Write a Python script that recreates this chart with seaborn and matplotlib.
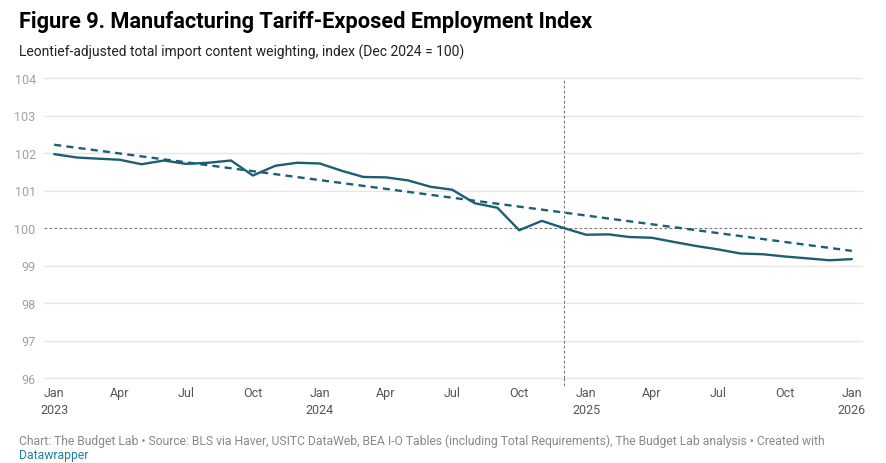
import pandas as pd
import numpy as np
import matplotlib.pyplot as plt
import matplotlib.dates as mdates
import seaborn as sns

# Monthly index values, Jan 2023 - Jan 2026
months = pd.date_range("2023-01-01", periods=37, freq="MS")
index_values = [101.97, 101.88, 101.85, 101.82, 101.70, 101.80, 101.71, 101.74, 101.80, 101.40,
                101.66, 101.74, 101.72, 101.52, 101.36, 101.35, 101.27, 101.10, 101.02,
                100.66, 100.54, 99.94, 100.19, 100.00, 99.82, 99.83, 99.76, 99.74, 99.63,
                99.52, 99.43, 99.32, 99.30, 99.24, 99.19, 99.14, 99.17]
# linear trend end points
trend_dates = [pd.Timestamp("2023-01-01"), pd.Timestamp("2026-01-01")]
trend_values = [102.22, 99.39]

y_ticks = [96, 97, 98, 99, 100, 101, 102, 103, 104]
x_tick_dates = pd.date_range("2023-01-01", periods=13, freq="3MS")
x_tick_labels = ["Jan\n2023", "Apr", "Jul", "Oct", "Jan\n2024", "Apr", "Jul", "Oct",
                 "Jan\n2025", "Apr", "Jul", "Oct", "Jan\n2026"]
marker_date = pd.Timestamp("2024-12-01")

df = pd.DataFrame({"date": months, "value": index_values})
trend = pd.DataFrame({"date": trend_dates, "value": trend_values})

sns.set_style("white")
plt.rcParams['font.family'] = ['Roboto', 'DejaVu Sans']

line_color = "#1c5f74"

fig = plt.figure(figsize=(8.87, 4.64), dpi=100)
ax = fig.add_axes([44 / 887, 1 - 379 / 464, (862 - 44) / 887, 300 / 464])

sns.lineplot(data=df, x="date", y="value", ax=ax, color=line_color, linewidth=1.7)
sns.lineplot(data=trend, x="date", y="value", ax=ax, color=line_color, linewidth=1.7,
             linestyle=(0, (3, 2.2)))

pad = pd.Timedelta(days=14)
ax.set_xlim(months[0] - pad, months[-1] + pad)
ax.set_ylim(96, 104)

# grid lines
for yv in y_ticks:
    if yv == 100:
        ax.axhline(yv, color="#777777", linewidth=0.8, linestyle=(0, (2.5, 2)), zorder=1)
    else:
        ax.axhline(yv, color="#e6e6e6", linewidth=1.0, zorder=0, clip_on=False)

ax.axvline(marker_date, ymin=0, ymax=1, color="#777777", linewidth=0.8,
           linestyle=(0, (2.5, 2)), zorder=1)
ax.plot([marker_date, marker_date], [96, 95.8], color="#777777", linewidth=0.8,
        linestyle=(0, (2.5, 2)), clip_on=False)

for s in ax.spines.values():
    s.set_visible(False)

ax.set_yticks(y_ticks)
ax.set_yticklabels([str(v) for v in y_ticks], color="#a0a0a0", fontsize=9)
ax.set_xticks(x_tick_dates)
ax.set_xticklabels(x_tick_labels, color="#555555", fontsize=9, linespacing=1.4, va="top")
ax.tick_params(axis="both", length=0)
ax.tick_params(axis="y", pad=6)
ax.tick_params(axis="x", pad=6)
ax.set_xlabel("")
ax.set_ylabel("")

fig.text(19 / 887, 1 - 22 / 464, "Figure 9. Manufacturing Tariff-Exposed Employment Index",
         fontsize=15.7, fontweight="bold", color="#000000", va="center", ha="left")
fig.text(19 / 887, 1 - 52 / 464, "Leontief-adjusted total import content weighting, index (Dec 2024 = 100)",
         fontsize=10, color="#222222", va="center", ha="left")
fig.text(19 / 887, 1 - 441 / 464,
         "Chart: The Budget Lab \u2022 Source: BLS via Haver, USITC DataWeb, BEA I-O Tables (including Total Requirements), The Budget Lab analysis \u2022 Created with",
         fontsize=8.75, color="#888888", va="center", ha="left")
fig.text(19 / 887, 1 - 456 / 464, "Datawrapper", fontsize=8.75, color="#1d81a2", va="center", ha="left")

fig.savefig("out.png", dpi=100)
